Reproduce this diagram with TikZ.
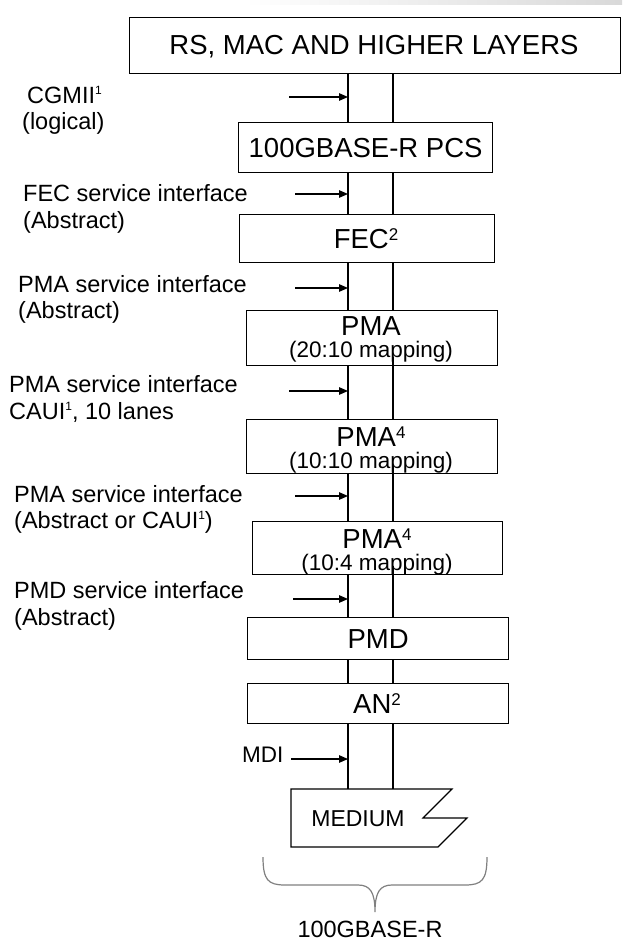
\documentclass[tikz,border=0pt]{standalone}
\usepackage{fontspec}
\setmainfont{Liberation Sans}
\usetikzlibrary{arrows.meta,calc}
\newcommand\lblsup[1]{\raisebox{8.5pt}{\fontsize{12}{12}\selectfont #1}}
\newcommand\boxsup[1]{\raisebox{8pt}{\fontsize{17}{17}\selectfont #1}}
\begin{document}
\begin{tikzpicture}[x=1pt,y=-1pt,
  box/.style={draw=black,line width=1.2pt,rectangle,inner sep=0pt,anchor=north west},
  boxtxt/.style={font=\fontsize{27.5}{30}\selectfont,inner sep=0pt},
  maptxt/.style={font=\fontsize{22.5}{25}\selectfont,inner sep=0pt,anchor=base},
  lbl/.style={font=\fontsize{23.5}{26}\selectfont,inner sep=0pt,anchor=base west},
  conn/.style={line width=1.2pt,black},
  arr/.style={line width=1.2pt,-{Triangle[length=9pt,width=7.5pt]}},
]
\useasboundingbox (0,0) rectangle (622,942);
\fill[white] (0,0) rectangle (622,942);
% page-corner shadow at top
\shade[left color=white,right color=black!15] (245,0) rectangle (622,5);

\coordinate (L) at (348,0);
\coordinate (R) at (393,0);

% boxes
\node[box,minimum width=491pt,minimum height=56pt] (top) at (129,17) {};
\node[boxtxt] (toptxt) at (374,47) {RS, MAC AND HIGHER LAYERS};

\node[box,minimum width=254pt,minimum height=50pt] (pcs) at (238,122) {};
\node[boxtxt] (pcstxt) at (pcs.center) {100GBASE-R PCS};

\node[box,minimum width=255pt,minimum height=48pt] (fec) at (239,214) {};
\node[boxtxt,anchor=base] (fectxt) at (366,248) {FEC\boxsup{2}};

\node[box,minimum width=251pt,minimum height=55pt] (pmaA) at (246,310) {};
\node[boxtxt,anchor=base] (pmaAtxt) at (371,335) {PMA};
\node[maptxt] (pmaAmap) at (371,357.5) {(20:10 mapping)};

\node[box,minimum width=251pt,minimum height=54pt] (pmaB) at (246,419) {};
\node[boxtxt,anchor=base] (pmaBtxt) at (371,446) {PMA\boxsup{4}};
\node[maptxt] (pmaBmap) at (371,468) {(10:10 mapping)};

\node[box,minimum width=250pt,minimum height=53pt] (pmaC) at (252,521) {};
\node[boxtxt,anchor=base] (pmaCtxt) at (377,548) {PMA\boxsup{4}};
\node[maptxt] (pmaCmap) at (377,570) {(10:4 mapping)};

\node[box,minimum width=261pt,minimum height=42pt] (pmd) at (247,617) {};
\node[boxtxt] (pmdtxt) at (pmd.center) {PMD};

\node[box,minimum width=261pt,minimum height=40pt] (an) at (247,683) {};
\node[boxtxt,anchor=base] (antxt) at (377,713) {AN\boxsup{2}};

% medium shape
\coordinate (m1) at (291,789);
\coordinate (m2) at (452,789);
\coordinate (m3) at (423,818);
\coordinate (m4) at (467,818);
\coordinate (m5) at (438,847);
\coordinate (m6) at (291,847);
\draw[line width=1.2pt] (m1) -- (m2) -- (m3) -- (m4) -- (m5) -- (m6) -- cycle;
\coordinate (med) at (291,789);
\node[font=\fontsize{23}{25}\selectfont,inner sep=0pt] (medtxt) at (358,819) {MEDIUM};

% vertical connectors
\foreach \a/\b in {top/pcs,pcs/fec,fec/pmaA,pmaA/pmaB,pmaB/pmaC,pmaC/pmd,pmd/an}{
  \draw[conn] (\a.south -| L) -- (\b.north -| L);
  \draw[conn] (\a.south -| R) -- (\b.north -| R);
}
\draw[conn] (pmaA.south -| R) -- ++(0,-9);
\draw[conn] (pmaB.south -| R) -- ++(0,-9);
\draw[conn] (pmaC.south -| R) -- ++(0,-9);
\draw[conn] (an.south -| L) -- (med -| L);
\draw[conn] (an.south -| R) -- (med -| R);

% arrows
\coordinate (a1) at (289,97);
\coordinate (a2) at (295,194);
\coordinate (a3) at (295,288);
\coordinate (a4) at (289,391);
\coordinate (a5) at (295,496);
\coordinate (a6) at (293,599);
\coordinate (a7) at (291,759);
\foreach \p in {a1,a2,a3,a4,a5,a6,a7}{
  \draw[arr] (\p) -- (\p -| L);
}

% labels
\node[lbl] (l1a) at (27,103) {CGMII\lblsup{1}};
\node[lbl] (l1b) at (22,129) {(logical)};
\node[lbl] (l2a) at (23,201) {FEC service interface};
\node[lbl] (l2b) at (23,228) {(Abstract)};
\node[lbl] (l3a) at (18,292) {PMA service interface};
\node[lbl] (l3b) at (18,318) {(Abstract)};
\node[lbl] (l4a) at (9,392) {PMA service interface};
\node[lbl] (l4b) at (9,419) {CAUI\lblsup{1}, 10 lanes};
\node[lbl] (l5a) at (14,502) {PMA service interface};
\node[lbl] (l5b) at (14,528) {(Abstract or CAUI\lblsup{1})};
\node[lbl] (l6a) at (14,598) {PMD service interface};
\node[lbl] (l6b) at (14,625) {(Abstract)};
\node[lbl,font=\fontsize{22.5}{25}\selectfont] (l7) at (242,762) {MDI};

% brace
\draw[line width=1.2pt,black!50] (263,857) .. controls (263,880) and (268,885) .. (285,885)
  -- (358,885) .. controls (370,885) and (375,892) .. (375,912)
  .. controls (375,892) and (380,885) .. (392,885)
  -- (465,885) .. controls (482,885) and (487,880) .. (487,857);
\node[lbl,anchor=base] (brtxt) at (370,937) {100GBASE-R};
\end{tikzpicture}
\end{document}
